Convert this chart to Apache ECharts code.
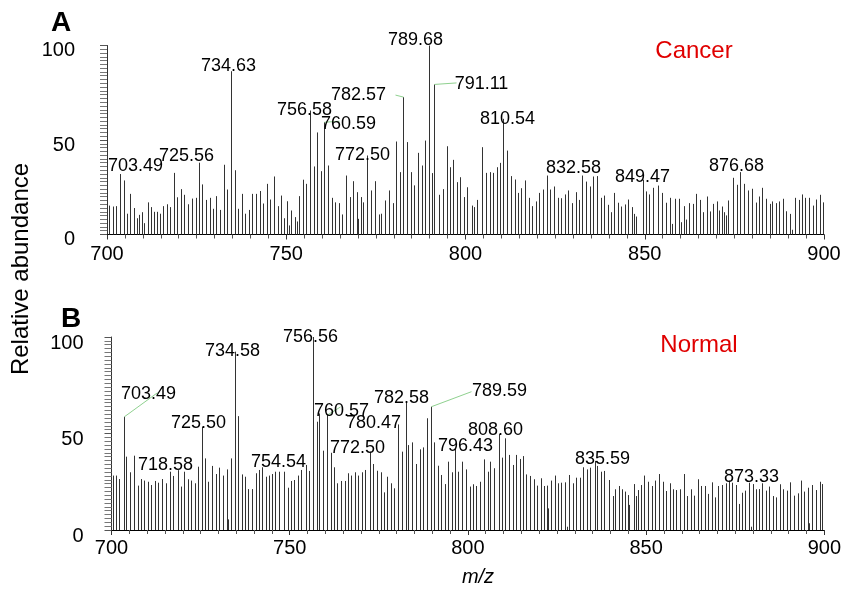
<!DOCTYPE html>
<html>
<head>
<meta charset="utf-8">
<script src="https://cdn.jsdelivr.net/npm/echarts@6/dist/echarts.min.js"></script>
<style>html,body{margin:0;padding:0;background:#fff}#c{width:844px;height:589px}</style>
</head>
<body>
<div id="c"></div>
<script>
// ---------- DATA ----------
// Panel A (Cancer): m/z positions and relative abundances
const mzA = [700.6,701.7,702.6,703.49,704.8,705.6,706.5,707.5,708.3,708.9,709.9,710.4,711.3,712.4,713.1,713.9,714.8,715.6,716.6,717.5,718.6,719.5,720.6,721.5,722.6,723.6,724.7,725.56,726.5,727.7,728.7,729.6,730.5,731.4,732.5,733.6,734.63,735.6,736.6,737.6,738.6,739.6,740.5,741.5,742.6,743.5,744.5,745.5,746.5,747.7,748.5,749.4,750.3,750.9,751.4,752.4,753.0,753.6,754.7,755.6,756.58,757.7,758.6,759.7,760.59,761.7,762.8,763.7,764.7,765.6,766.7,767.7,768.6,769.6,770.0,770.8,771.4,772.50,773.6,774.8,775.8,776.3,777.5,778.7,779.7,780.6,781.7,782.57,783.8,784.7,785.7,786.7,787.9,788.7,789.68,790.6,791.11,792.5,793.6,794.8,795.7,796.6,797.5,798.5,799.5,800.5,801.7,802.5,803.2,804.7,805.6,806.7,807.7,808.8,809.6,810.54,811.6,812.8,813.7,814.7,815.6,816.7,817.7,818.6,819.6,820.6,821.7,822.7,823.7,824.8,825.8,826.7,827.7,828.6,829.8,830.8,831.7,832.58,833.6,834.6,835.7,836.6,837.8,838.7,839.8,840.6,841.5,842.6,843.5,844.4,845.4,846.5,847.1,847.6,849.47,850.4,851.2,852.4,853.7,854.9,855.9,857.0,857.5,858.4,859.6,860.1,860.9,861.6,862.3,863.4,864.4,865.5,866.3,867.4,868.3,869.1,870.1,870.8,871.6,872.2,872.8,873.3,874.5,875.7,876.68,877.7,878.8,879.9,880.9,881.8,882.8,883.9,884.9,885.6,886.5,887.5,888.6,889.5,890.5,891.0,891.9,892.9,893.9,894.8,895.7,896.8,897.9,898.8,899.7];
const intA = [15.3,14.8,15,32,28.6,11,21.5,14,8.6,10.4,11.8,6,17,14.5,12,12,11,15,16,14.5,32.6,19.7,24,21,16,19,19.4,38,26.5,18.3,19.4,13.6,20.3,13,36.9,23.8,86.4,34,13.6,21.5,11,13,21.5,21.5,23,16.4,26.8,18.5,30.7,15,20.6,8.6,17.6,4.8,12.7,9.2,6.9,20.3,29,26.8,65.6,36,54,33.5,59.4,36.5,19.4,17,16.6,10.6,31.2,19.8,28.2,22.4,8.3,19.8,17,41.8,23.3,28.2,10.6,11,18,23.3,16.6,49.2,33,72.7,48.9,33,26,43.2,36.5,49.7,100,32.5,79.4,21,24,46.7,35.6,39.5,27.7,30.3,19.8,25,15.3,14.5,18.3,46.2,32.6,33,32.6,35.6,37.9,61.2,44.4,30.9,29.1,22,24.5,28.6,19.4,15,17.5,22,23.8,31.2,23.8,25.4,19.4,19.2,21.2,23.3,16.6,22.4,18.3,31.2,28,25.4,30.7,30.9,19.4,20.6,15.7,11.8,22,16.8,14.8,15.9,18.5,14.5,10.9,9.5,29,22.8,21.2,24.7,25.9,22,16.8,19.4,5.6,18.9,18.9,6.5,15,7.9,16.6,16.2,21.5,18.3,11.8,20.1,12.2,16.2,17.5,12.7,14.8,11.8,10.1,18,30,26.3,33,26.8,23.3,24.2,16.9,20.1,24.7,18.9,16.2,17.5,16.6,17.5,18.9,12.3,10.9,2.5,19.4,18.3,21.2,19.4,19.4,15.3,18.5,21,17];

// Panel B (Normal)
const mzB = [700.3,701.2,702.1,703.49,704.2,705.3,706.3,707.3,708.3,709.2,710.2,711.2,712.2,713.1,714.2,715.2,716.3,717.3,718.58,719.4,720.4,721.4,722.3,723.3,724.3,725.50,726.3,727.2,728.3,729.2,730.3,731.3,732.3,732.8,733.6,734.58,735.4,736.5,737.5,738.4,739.3,740.5,741.4,742.3,743.3,744.2,745.1,746.0,747.1,748.4,749.5,750.4,751.2,752.3,753.2,754.54,755.4,756.56,757.6,758.3,759.3,760.57,761.5,762.4,763.4,764.4,765.4,766.3,767.3,768.3,769.3,770.3,771.2,772.50,773.5,774.5,775.5,776.5,777.2,778.3,779.3,780.47,781.4,782.58,783.3,784.4,785.4,786.5,787.4,788.4,789.59,790.4,791.6,792.4,793.5,794.5,795.4,796.43,797.3,798.4,799.5,800.6,801.4,802.3,803.3,804.4,805.5,806.3,807.4,808.60,809.6,810.5,811.5,812.6,813.6,814.5,815.4,816.4,817.5,818.5,819.3,820.5,821.4,822.1,822.5,823.4,824.4,825.3,826.2,827.3,827.7,828.5,829.5,830.4,831.4,832.4,833.4,834.3,835.59,836.3,837.4,838.3,839.5,840.6,841.4,842.3,843.1,844.0,844.9,845.3,846.5,847.3,847.7,848.6,849.5,850.5,851.6,852.6,853.5,854.6,855.5,856.6,857.5,858.4,859.4,860.5,861.6,862.7,863.5,864.5,865.4,866.5,867.4,868.4,869.4,870.1,871.2,872.3,873.33,874.2,875.3,876.1,876.9,877.7,878.8,879.4,879.9,880.8,881.6,882.6,883.5,884.6,885.7,886.5,887.5,888.5,889.4,890.4,891.5,892.5,893.5,894.4,895.4,895.8,896.5,897.6,898.7,899.4];
const intB = [28.2,28.2,26.4,58.7,38,29.9,38.5,23,26.4,25.6,25,23.3,25.4,24.5,26.4,24.2,30.2,28,31,22.5,30.2,26.3,25.6,24.2,32.8,53.5,37.1,25,33.2,29,32.3,28.2,31.4,5.5,37.1,92.4,59,28.8,27.6,21.2,21.2,29.4,31.1,32.5,27.6,28.2,29,30.2,30.2,30.2,21.9,25.4,25.9,28.2,31.1,33.7,30.6,100,56.1,60.4,41.1,59.6,40,32.5,24.2,25.4,25.4,29.4,28.2,29.9,28.2,29.9,31.1,40.6,34.2,30.7,29.9,19.5,27.6,24.2,21.6,54.7,40.6,66.5,44,45.4,34.2,41.8,42.8,57.9,63.9,45.4,33.3,28.5,23.8,35.4,29.9,42,30.2,35.4,31.4,22.5,23.7,22.8,25,36.6,30.2,35.4,32,49.7,37.5,47.5,38.9,33.7,38.9,36.8,38.3,28.8,28,26.3,23,26.8,22.8,23,11.2,25.6,28.2,24.2,24.5,24.7,1.7,28.5,24.2,27.1,27.1,32.5,31.4,32.3,35.8,33.2,30.2,30.6,25.9,17.6,21.1,22.8,21.1,19.9,18.1,13,23.8,17.6,20.7,23.3,28.2,25,22.8,25.6,29,25,20.2,24.2,21.1,20.7,21.1,29,17.6,21.1,17.8,26.3,22.8,22.8,18.7,24.7,16.9,22.8,23.3,24.2,25.6,24.5,23.3,13.5,19.3,20.4,24.5,1.7,23.8,21.1,21.2,24.2,20.4,22.5,17.6,16.9,23.7,21.1,20.4,24.7,17.8,19,25.6,19.9,21.9,3.5,23.3,20.7,25,23.8];

// Annotated peaks
const peakLabelsA = ['703.49','725.56','734.63','756.58','760.59','772.50','782.57','789.68','791.11','810.54','832.58','849.47','876.68'];
const peakLabelsB = ['703.49','718.58','725.50','734.58','754.54','756.56','760.57','772.50','780.47','782.58','789.59','796.43','808.60','835.59','873.33'];
const xTicks = [700,750,800,850,900];
const yTicks = [0,50,100];

// ---------- LAYOUT (pixel offsets of label centres from the peak tops) ----------
const labelOffsetA = {'703.49':[15,-8],'725.56':[-13,-7],'734.63':[-3,-5],'756.58':[-6,0],'760.59':[24,2],'772.50':[-5,0],'782.57':[-45,-2],'789.68':[-14,-5],'791.11':[47,0],'810.54':[4,0],'832.58':[-9,-8],'849.47':[-1,-3],'876.68':[-4,-6]};
const leaderA = {'760.59':[15,-1],'782.57':[-8,-2],'791.11':[22,-1.5]};
const labelOffsetB = {'703.49':[24,-23],'718.58':[-13,-5],'725.50':[-4,-4],'734.58':[-3,-1],'754.54':[-28,-3],'756.56':[-3,0],'760.57':[14,-4],'772.50':[-13,-4],'780.47':[-25,-1],'782.58':[-5,-4],'789.59':[68,-16],'796.43':[10,-3],'808.60':[-4,-4],'835.59':[7,-2],'873.33':[22,-4]};
const leaderB = {'703.49':[33,-24],'760.57':[13,-8],'789.59':[40,-15]};

const FONT = '"Liberation Sans", Arial, Helvetica, sans-serif';

function sticks(mz, ab){ return mz.map((m,i)=>[m, ab[i]]); }
function labelData(list, mz, ab){
  return list.map(s => { const m = parseFloat(s); const i = mz.indexOf(m); return [m, ab[i]]; });
}
const _labelLookup = {labA: peakLabelsA, labB: peakLabelsB};

function stickRender(params, api){
  const x = api.value(0), y = api.value(1);
  const p0 = api.coord([x, 0]);
  const p1 = api.coord([x, y]);
  const px = Math.round(p0[0]) + 0.5;
  return {type:'line', shape:{x1:px, y1:p0[1], x2:px, y2:p1[1]}, style:{stroke:'#333', lineWidth:1}, silent:true};
}
function makeLabelRender(offsets, leaders){
  return function(params, api){
    const x = api.value(0), y = api.value(1);
    const name = _labelLookup[params.seriesId][params.dataIndex];
    const p = api.coord([x, y]);
    const px = Math.round(p[0]) + 0.5;
    const off = offsets[name] || [0,-10];
    const children = [];
    if (leaders[name]) {
      const l = leaders[name];
      children.push({type:'line', shape:{x1:px, y1:p[1], x2:px + l[0], y2:p[1] + l[1]}, style:{stroke:'#8fd18f', lineWidth:1}});
    }
    children.push({type:'text', x: px + off[0], y: p[1] + off[1], style:{text:name, fill:'#000', font:'18px ' + FONT, align:'center', verticalAlign:'middle'}});
    return {type:'group', children};
  };
}

function xAxisCfg(gi, margin){
  return {
    type:'value', gridIndex:gi, min:xTicks[0], max:xTicks[xTicks.length-1], interval:50,
    axisLine:{show:true, onZero:false, lineStyle:{color:'#000', width:1}},
    axisTick:{show:true, length:5, lineStyle:{color:'#333'}},
    minorTick:{show:true, splitNumber:10, length:4, lineStyle:{color:'#555'}},
    splitLine:{show:false}, minorSplitLine:{show:false},
    axisLabel:{color:'#000', fontSize:20, fontFamily:FONT, margin:margin}
  };
}
function yAxisCfg(gi, margin, lh){
  return {
    type:'value', gridIndex:gi, min:yTicks[0], max:yTicks[yTicks.length-1], interval:50,
    axisLine:{show:true, lineStyle:{color:'#333', width:1}},
    axisTick:{show:true, length:7, lineStyle:{color:'#555'}},
    minorTick:{show:true, splitNumber:25, length:7, lineStyle:{color:'#777'}},
    splitLine:{show:false}, minorSplitLine:{show:false},
    axisLabel:{color:'#000', fontSize:20, fontFamily:FONT, margin:margin, verticalAlign:'top', lineHeight:lh}
  };
}

const chart = echarts.init(document.getElementById('c'), null, {renderer:'canvas'});
chart.setOption({
  animation:false,
  backgroundColor:'#fff',
  grid:[
    {left:107, width:717, top:45.5, height:189},
    {left:111.5, width:717, top:337, height:193}
  ],
  xAxis:[xAxisCfg(0, 10), xAxisCfg(1, 8)],
  yAxis:[yAxisCfg(0, 32, 10), yAxisCfg(1, 28, 12)],
  series:[
    {id:'stA', type:'custom', xAxisIndex:0, yAxisIndex:0, data:sticks(mzA,intA), renderItem:stickRender, encode:{x:0,y:1}},
    {id:'stB', type:'custom', xAxisIndex:1, yAxisIndex:1, data:sticks(mzB,intB), renderItem:stickRender, encode:{x:0,y:1}},
    {id:'labA', type:'custom', xAxisIndex:0, yAxisIndex:0, data:labelData(peakLabelsA, mzA, intA), renderItem:makeLabelRender(labelOffsetA, leaderA), encode:{x:0,y:1}, z:5},
    {id:'labB', type:'custom', xAxisIndex:1, yAxisIndex:1, data:labelData(peakLabelsB, mzB, intB), renderItem:makeLabelRender(labelOffsetB, leaderB), encode:{x:0,y:1}, z:5}
  ],
  graphic:[
    {type:'text', x:61, y:23, style:{text:'A', font:'bold 28px ' + FONT, fill:'#000', align:'center', verticalAlign:'middle'}},
    {type:'text', x:71, y:319, style:{text:'B', font:'bold 28px ' + FONT, fill:'#000', align:'center', verticalAlign:'middle'}},
    {type:'text', x:694, y:51, style:{text:'Cancer', font:'24px ' + FONT, fill:'#e00000', align:'center', verticalAlign:'middle'}},
    {type:'text', x:699, y:345, style:{text:'Normal', font:'24px ' + FONT, fill:'#e00000', align:'center', verticalAlign:'middle'}},
    {type:'text', x:21, y:269, rotation:Math.PI/2, style:{text:'Relative abundance', font:'24px ' + FONT, fill:'#000', align:'center', verticalAlign:'middle'}},
    {type:'text', x:478, y:577, style:{text:'m/z', font:'italic 20px ' + FONT, fill:'#000', align:'center', verticalAlign:'middle'}}
  ]
});
</script>
</body>
</html>
